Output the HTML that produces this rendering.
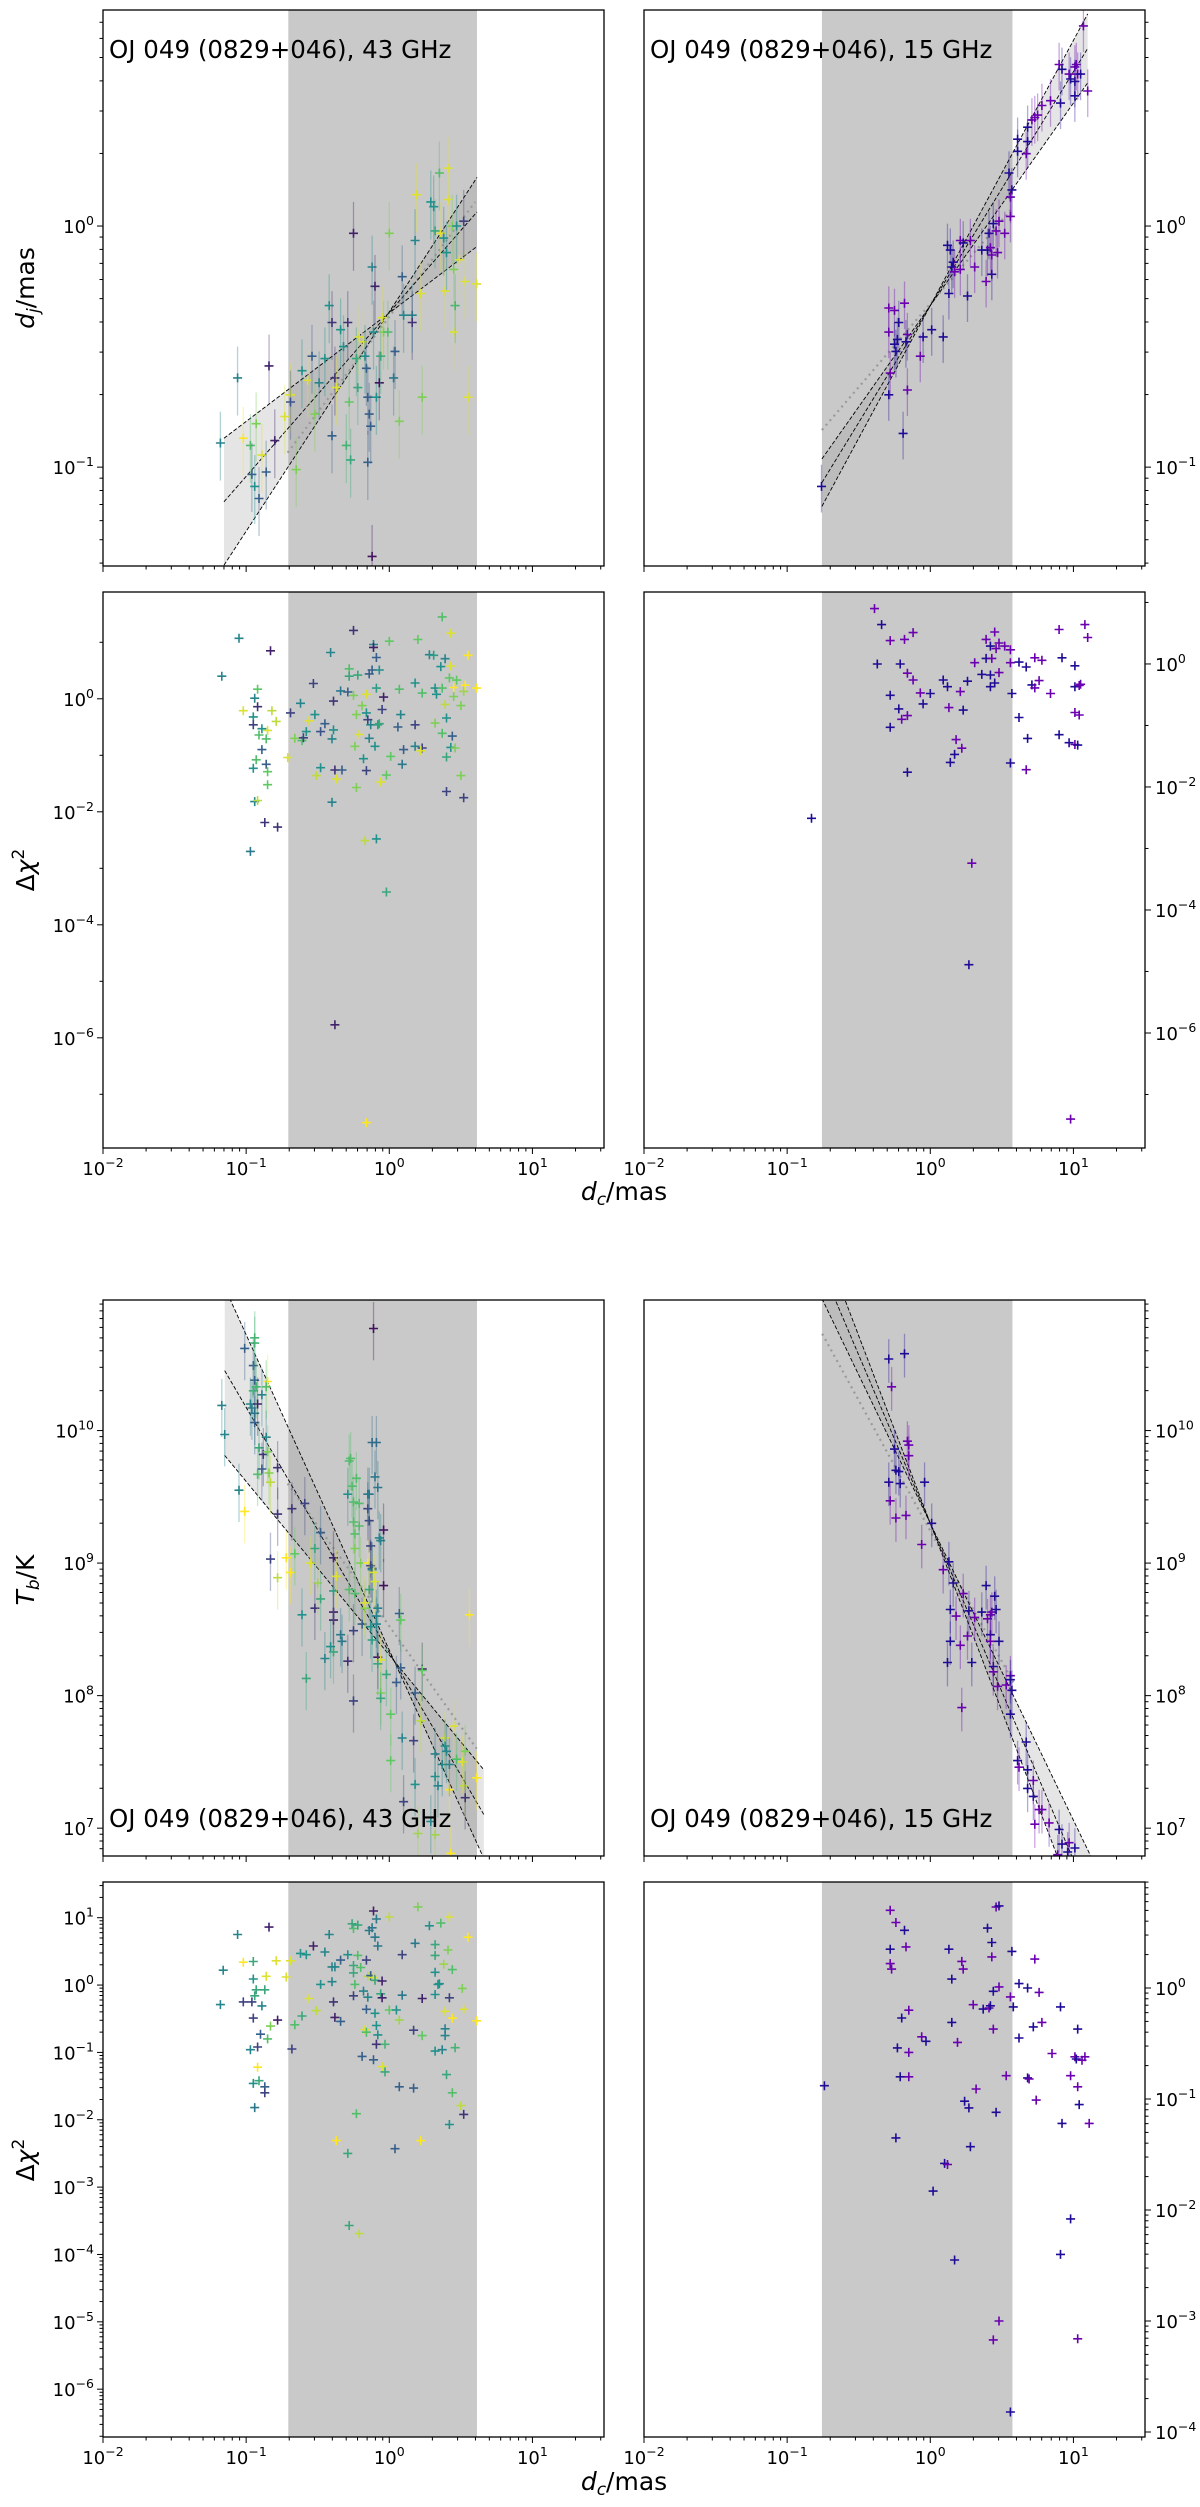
<!DOCTYPE html>
<html><head><meta charset="utf-8"><title>OJ 049 size/brightness vs distance</title>
<style>
html,body{margin:0;padding:0;background:#fff;}
svg{display:block;font-family:"DejaVu Sans","Liberation Sans",sans-serif;}
</style></head>
<body>
<svg id="fig" width="1200" height="2507" viewBox="0 0 1200 2507" xmlns="http://www.w3.org/2000/svg"></svg>
<script>
// ===== DATA (log10 values) =====
// Top-left: d_j vs d_c at 43 GHz
const tlLogDc=[-1.18,-1.06,-0.84,-1.02,-0.97,-0.96,-0.94,-0.91,-0.89,-0.86,-0.93,-0.80,-0.73,-0.69,-0.69,-0.65,-0.61,-0.57,-0.54,-0.52,-0.49,-0.45,-0.42,-0.40,-0.38,-0.37,-0.40,-0.34,-0.32,-0.30,-0.29,-0.28,-0.27,-0.25,-0.23,-0.22,-0.21,-0.18,-0.17,-0.16,-0.15,-0.14,-0.13,-0.15,-0.12,-0.11,-0.10,-0.09,-0.07,-0.06,-0.05,-0.04,-0.01,0.00,0.03,0.04,0.07,0.09,0.10,0.16,0.18,0.16,0.19,0.22,0.23,0.29,0.31,0.32,0.35,0.36,0.38,0.39,0.40,0.41,0.41,0.44,0.45,0.46,0.45,0.47,0.49,0.52,0.53,0.55,0.61,-0.12];
const tlLogDj=[-0.90,-0.63,-0.58,-0.88,-0.91,-1.03,-1.08,-1.13,-0.95,-1.02,-0.82,-0.89,-0.79,-0.70,-0.73,-1.01,-0.60,-0.64,-0.54,-0.78,-0.65,-0.55,-0.33,-0.40,-0.63,-0.67,-0.87,-0.43,-0.50,-0.91,-0.40,-0.73,-0.97,-0.03,-0.55,-0.67,-0.46,-0.48,-0.54,-0.59,-0.71,-0.78,-0.83,-0.98,-0.17,-0.44,-0.25,-0.71,-0.65,-0.54,-0.38,-0.44,-0.44,-0.03,-0.63,-0.52,-0.81,-0.21,-0.37,-0.37,-0.06,-0.40,0.13,-0.28,-0.71,0.10,0.08,-0.02,0.22,-0.03,-0.05,-0.27,-0.11,0.24,0.11,0.00,-0.18,-0.33,-0.44,0.00,-0.14,0.02,-0.23,-0.71,-0.24,-1.37];
const tlColor=[.45,.45,.1,1,.7,.3,.5,.3,.95,.3,.8,.1,.95,.95,.25,.8,.5,.95,.3,.8,.45,.5,.5,.15,.15,.95,.3,.5,.5,.65,.15,.75,.6,.1,.6,.6,.95,.95,.5,.3,.3,.3,.3,.3,.45,.5,.1,.5,.05,.6,.95,.8,.7,.8,.4,.3,.8,.3,.45,.45,.45,.15,.95,.95,.8,.5,.5,.6,.7,.95,.5,.95,.5,.95,.95,.8,.8,.65,.95,.5,.95,.2,.95,.95,.95,.05];
// Top-right: d_j vs d_c at 15 GHz (color 0 = blue epoch group, 1 = purple)
const trLogDc=[-0.76,-0.29,-0.25,-0.18,-0.22,-0.29,-0.23,-0.25,-0.24,-0.16,-0.17,-0.28,-0.29,-0.16,-0.19,-0.07,-0.05,0.01,0.09,0.12,0.13,0.14,0.15,0.16,0.17,0.21,0.21,0.23,0.26,0.28,0.31,0.36,0.39,0.40,0.41,0.42,0.43,0.43,0.44,0.46,0.47,0.48,0.52,0.56,0.56,0.55,0.57,0.61,0.61,0.67,0.68,0.68,0.71,0.73,0.75,0.78,0.84,0.90,0.91,0.92,0.97,0.98,1.01,1.02,1.01,1.01,1.03,1.05,1.10,1.07];
const trLogDj=[-1.08,-0.34,-0.35,-0.32,-0.40,-0.44,-0.47,-0.49,-0.52,-0.45,-0.48,-0.61,-0.70,-0.68,-0.86,-0.54,-0.46,-0.43,-0.46,-0.08,-0.28,-0.10,-0.17,-0.15,-0.19,-0.18,-0.06,-0.07,-0.29,-0.06,-0.17,-0.10,-0.23,-0.10,-0.03,-0.09,-0.20,-0.12,0.01,-0.02,-0.11,0.02,-0.03,0.04,0.12,0.22,0.15,0.31,0.36,0.30,0.41,0.35,0.44,0.45,0.46,0.50,0.52,0.67,0.51,0.65,0.63,0.61,0.66,0.67,0.60,0.54,0.63,0.63,0.56,0.83];
const trColor=[0,1,1,1,0,1,0,0,0,1,0,1,0,1,0,1,0,0,0,0,0,0,0,0,1,1,1,0,0,1,1,0,1,0,0,1,0,1,0,1,1,1,1,1,1,0,0,0,0,1,0,0,1,1,1,1,1,1,0,0,1,0,1,1,0,0,1,0,1,1];
// Row 2 left: delta chi^2 (d_j fit) at 43 GHz
const mlLogDc=[-1.17,-1.05,-0.83,-1.02,-0.94,-0.92,-0.92,-0.95,-0.95,-0.91,-0.89,-0.85,-0.86,-0.82,-0.79,-0.89,-0.93,-0.95,-0.86,-0.85,-0.85,-0.94,-0.92,-0.87,-0.78,-0.97,-0.71,-0.69,-0.62,-0.66,-0.61,-0.60,-0.58,-0.56,-0.52,-0.53,-0.48,-0.45,-0.51,-0.48,-0.41,-0.40,-0.39,-0.39,-0.38,-0.37,-0.33,-0.40,-0.34,-0.29,-0.28,-0.28,-0.25,-0.25,-0.24,-0.23,-0.23,-0.22,-0.21,-0.19,-0.18,-0.16,-0.16,-0.16,-0.15,-0.14,-0.14,-0.13,-0.12,-0.11,-0.11,-0.10,-0.09,-0.09,-0.08,-0.07,-0.07,-0.06,-0.05,-0.04,-0.02,0.00,0.01,-0.17,-0.09,-0.02,-0.38,-0.16,0.06,0.07,0.08,0.10,0.09,0.18,0.18,0.18,0.20,0.23,0.22,0.23,0.28,0.31,0.32,0.33,0.32,0.36,0.37,0.37,0.37,0.39,0.39,0.40,0.40,0.40,0.42,0.43,0.43,0.43,0.44,0.45,0.45,0.46,0.47,0.50,0.50,0.52,0.52,0.53,0.55,0.61];
const mlLogChi=[0.40,1.07,0.85,-0.21,0.01,0.17,-0.14,-0.32,-0.46,-0.64,-0.53,-0.56,-0.71,-0.21,-0.40,-0.90,-1.08,-1.23,-1.16,-1.29,-1.52,-1.82,-1.80,-2.19,-2.27,-2.70,-1.04,-0.25,-0.08,-0.70,-0.74,-0.69,-0.58,-0.39,-0.28,0.27,-0.58,-0.44,-1.36,-1.22,0.82,-0.71,-0.55,-0.04,-1.26,-1.42,-1.26,-1.83,0.14,0.12,0.53,0.40,1.21,0.06,-0.84,-1.57,-0.28,0.42,-0.63,-0.12,-1.06,-1.27,-0.25,0.08,-0.37,-0.70,0.44,-0.46,0.51,0.96,0.91,-0.84,0.73,0.19,-0.46,0.51,-0.44,-1.47,-0.19,0.03,-1.35,1.02,-1.02,-2.51,-2.48,-3.42,-5.77,-7.50,-0.50,0.17,-0.28,-0.90,-1.16,-0.46,0.28,-0.84,1.05,-0.87,-0.92,0.10,0.78,0.77,0.19,0.08,-0.43,0.57,1.45,0.19,-0.61,0.71,-0.10,-1.03,-1.64,-0.34,0.37,0.58,1.16,-0.86,-0.66,0.20,0.04,-0.87,0.33,-0.12,-1.36,-1.75,0.13,0.24,0.77,0.19];
const mlColor=[.45,.45,.1,.95,.45,.75,.15,.5,.2,.7,.5,.95,.7,.9,.9,.3,.7,.5,.3,.75,.75,.45,.9,.15,.15,.4,.95,.2,.45,.8,.7,.2,.5,.95,.5,.2,.25,.3,.9,.5,.45,.45,.5,.15,.15,.95,.3,.45,.4,.3,.7,.6,.15,.8,.8,.8,.8,.6,.95,.8,.5,.2,.5,.95,.2,.45,.3,.45,.3,.45,.1,.5,.3,.55,.55,.5,.6,.95,.2,.1,.75,.75,.75,.9,.5,.6,.1,1,.3,.7,.45,.3,.4,.2,.5,.45,.75,.2,.95,.7,.45,.55,.5,.5,.8,.5,.7,.7,.7,.45,.9,.6,.2,.5,.75,.95,.95,.5,.3,1,.8,.8,.75,.8,.8,.2,.85,1,1,1];
// Row 2 right: delta chi^2 (d_j fit) at 15 GHz
const mrLogDc=[-0.18,-0.21,-0.16,-0.22,-0.16,-0.16,-0.07,0.00,-0.05,0.09,0.12,0.21,0.26,0.13,0.23,0.18,0.22,0.17,0.14,0.29,0.31,0.36,0.39,0.39,0.42,0.42,0.42,0.43,0.45,0.46,0.48,0.45,0.48,0.52,0.56,0.56,0.57,0.56,0.62,0.62,0.67,0.68,0.67,0.73,0.78,0.71,0.73,0.76,0.84,0.90,0.92,0.90,0.97,1.01,1.04,1.01,1.03,1.01,1.01,1.04,1.05,1.08,1.10,-0.39,-0.34,-0.28,-0.37,-0.12,-0.28,-0.20,-0.28,-0.12,-0.83,0.27,0.98];
const mrLogChi=[0.40,0.00,-0.15,-0.73,-0.84,-1.76,-0.47,-0.48,-0.65,-0.26,-0.37,-0.45,-0.28,-0.71,-0.75,-1.23,-1.37,-1.47,-1.60,-3.24,0.02,-0.17,0.09,0.40,0.29,-0.18,-0.37,0.09,0.52,0.25,0.34,-0.31,-0.14,0.29,0.23,0.02,-0.48,-1.61,-0.87,0.03,-0.05,-1.21,-1.72,0.10,0.06,-0.34,-0.39,-0.27,-0.48,0.56,0.10,-1.15,-1.28,-0.79,-0.83,-1.31,-1.32,-0.03,-0.37,-0.35,-0.33,0.64,0.43,0.90,0.64,0.38,0.00,0.51,-0.51,-0.90,-1.03,-0.26,-2.51,-4.89,-7.40];
const mrColor=[1,0,1,0,1,0,1,0,0,0,0,1,0,1,0,1,1,0,0,1,1,0,0,1,0,0,0,1,1,1,1,0,1,1,1,1,0,0,0,0,0,0,1,1,1,0,1,1,1,1,0,0,0,1,1,1,0,0,0,1,1,1,1,1,0,1,0,1,0,1,0,1,0,0,1];
// Row 3 left: T_b vs d_c at 43 GHz
const blLogDc=[-1.17,-1.15,-1.05,-1.01,-1.01,-0.94,-0.94,-0.95,-0.94,-0.97,-0.96,-0.95,-0.94,-0.94,-0.92,-0.93,-0.91,-0.92,-0.89,-0.89,-0.88,-0.86,-0.85,-0.86,-0.85,-0.84,-0.83,-0.83,-0.78,-0.78,-0.78,-0.72,-0.69,-0.68,-0.66,-0.61,-0.59,-0.58,-0.55,-0.52,-0.52,-0.50,-0.48,-0.48,-0.45,-0.41,-0.39,-0.39,-0.39,-0.39,-0.39,-0.37,-0.34,-0.33,-0.29,-0.28,-0.27,-0.26,-0.25,-0.25,-0.24,-0.24,-0.23,-0.21,-0.21,-0.29,-0.25,-0.25,-0.24,-0.28,-0.20,-0.19,-0.17,-0.17,-0.15,-0.15,-0.14,-0.15,-0.14,-0.13,-0.13,-0.12,-0.12,-0.11,-0.10,-0.12,-0.09,-0.10,-0.08,-0.11,-0.14,-0.13,-0.12,-0.09,-0.09,-0.08,-0.07,-0.06,-0.04,-0.04,-0.08,-0.06,-0.08,-0.06,-0.02,-0.06,0.01,0.01,0.07,0.08,0.08,0.05,0.09,0.18,0.18,0.17,0.10,0.22,0.23,0.23,0.20,0.29,0.32,0.32,0.34,0.32,0.37,0.39,0.40,0.39,0.42,0.42,0.43,0.45,0.47,0.51,0.52,0.53,0.53,0.56,0.61];
const blLogTb=[10.19,9.97,9.55,9.39,10.62,10.70,10.66,10.49,10.38,10.20,10.17,10.30,10.13,10.06,10.20,10.33,9.87,9.67,10.27,9.71,9.82,9.95,10.37,10.33,9.84,9.68,9.61,9.03,9.72,9.37,8.89,9.04,8.93,9.41,9.07,8.61,9.45,8.13,9.00,9.11,8.66,8.85,9.23,8.73,8.28,8.37,8.57,8.63,9.04,8.79,8.33,8.90,8.46,8.41,9.52,9.77,9.79,9.58,9.46,9.31,9.22,9.11,9.64,9.45,9.28,8.26,8.49,7.96,8.77,8.80,9.00,8.54,8.66,8.70,9.00,9.41,9.32,9.52,9.52,9.13,8.98,8.95,8.96,8.93,8.86,9.91,9.91,9.65,9.57,10.77,8.80,8.52,8.42,8.60,8.54,8.66,9.19,9.17,9.25,8.83,8.29,8.27,8.24,8.02,8.16,7.98,7.86,7.51,8.62,8.57,8.21,8.10,7.68,8.02,7.33,7.66,7.20,7.81,8.20,8.19,6.96,7.05,7.56,6.95,7.32,7.39,7.48,7.68,7.58,7.62,7.29,7.48,6.81,7.77,7.52,7.50,7.32,7.23,7.58,8.61,7.38];
const blColor=[.45,.45,.45,1,.3,.65,.65,.3,.3,.45,.4,.65,.4,.3,.1,.65,.6,.7,.45,.3,.15,.45,1,.7,.8,.8,.9,.2,.15,.15,.9,1,1,.15,.75,.5,.2,.6,.95,.6,.15,.85,.3,.6,.45,.5,.1,.1,.1,.55,.6,.95,.4,.4,.5,.7,.7,.7,.7,.7,.7,.8,.7,.7,.7,.15,.2,.2,.7,.7,.8,.3,.8,.95,1,.2,.2,.4,.4,.2,.2,.45,.3,.95,.95,.35,.35,.4,.4,.05,.6,.5,.55,.45,.45,.45,.45,.45,.05,.05,.05,.95,.6,.8,.6,.6,.75,.75,.3,.75,.3,.3,.45,.3,.5,.2,.2,.9,.1,.75,.85,.45,.45,.85,.45,.5,.45,.95,.45,.5,1,.45,1,.95,.7,.95,.9,.15,.8,1,1];
// Row 3 right: T_b vs d_c at 15 GHz
const brLogDc=[-0.29,-0.18,-0.27,-0.25,-0.16,-0.15,-0.15,-0.24,-0.22,-0.29,-0.21,-0.04,-0.28,-0.24,-0.17,-0.06,0.01,0.09,0.13,0.16,0.14,0.18,0.23,0.27,0.31,0.36,0.39,0.40,0.42,0.43,0.45,0.46,0.42,0.42,0.48,0.26,0.21,0.14,0.12,0.29,0.44,0.44,0.47,0.53,0.56,0.56,0.57,0.56,0.22,0.61,0.62,0.67,0.68,0.68,0.72,0.72,0.76,0.78,0.73,0.83,0.90,0.92,0.97,1.01,0.89,0.96];
const brLogTb=[10.54,10.58,10.33,9.86,9.92,9.89,9.81,9.70,9.69,9.61,9.60,9.61,9.47,9.34,9.36,9.14,9.30,8.95,9.01,8.85,8.65,8.60,8.77,8.64,8.59,8.63,8.83,8.58,8.61,8.63,8.75,8.65,8.46,8.41,8.41,8.45,8.38,8.41,8.25,8.25,8.22,8.18,8.07,8.08,8.15,8.12,8.04,7.86,7.91,7.51,7.46,7.65,7.44,7.30,7.24,7.36,7.14,7.14,7.03,7.04,6.99,6.88,6.89,6.85,6.80,6.82];
const brColor=[0,0,1,0,1,1,1,0,0,0,0,0,1,1,1,1,0,1,0,0,0,1,1,0,1,0,0,1,1,1,0,0,0,1,0,1,1,0,0,0,0,1,1,1,1,0,0,0,1,0,1,0,0,0,0,1,1,1,1,1,0,0,1,0,1,0];
// Row 4 left: delta chi^2 (T_b fit) at 43 GHz
const llLogDc=[-1.06,-0.84,-1.16,-1.18,-1.02,-0.95,-0.95,-0.86,-0.79,-0.69,-0.72,-0.93,-0.94,-0.87,-1.02,-0.96,-0.89,-0.95,-0.78,-0.83,-0.90,-0.85,-0.97,-0.92,-0.68,-0.92,-0.91,-0.95,-0.87,-0.87,-0.94,-0.66,-0.61,-0.56,-0.51,-0.62,-0.58,-0.53,-0.48,-0.45,-0.42,-0.40,-0.40,-0.38,-0.39,-0.38,-0.34,-0.34,-0.29,-0.25,-0.26,-0.22,-0.22,-0.25,-0.25,-0.24,-0.25,-0.20,-0.16,-0.15,-0.13,-0.11,-0.10,-0.18,-0.16,-0.15,-0.10,-0.09,-0.08,-0.09,-0.06,-0.05,-0.05,-0.14,-0.12,-0.11,-0.09,-0.10,-0.08,-0.19,-0.11,-0.17,-0.16,-0.05,-0.03,-0.03,-0.23,-0.37,-0.29,-0.28,-0.21,0.00,0.00,0.05,0.07,0.07,0.04,0.09,0.09,0.18,0.17,0.17,0.20,0.23,0.23,0.22,0.28,0.32,0.32,0.32,0.34,0.35,0.32,0.32,0.36,0.38,0.39,0.37,0.39,0.39,0.40,0.42,0.41,0.42,0.42,0.44,0.44,0.44,0.46,0.50,0.51,0.52,0.52,0.55,0.61];
const llLogChi=[0.75,0.86,0.22,-0.29,0.34,0.35,0.09,0.13,0.36,0.36,0.12,-0.07,-0.16,-0.07,-0.25,-0.25,-0.31,-0.49,-0.52,-0.61,-0.73,-0.80,-0.96,-0.92,-0.95,-1.22,-1.42,-1.46,-1.51,-1.60,-1.82,-0.59,-0.46,-0.20,-0.38,0.47,0.45,0.58,0.01,0.49,0.75,0.27,0.05,0.27,-0.25,-0.48,-0.54,0.37,0.45,0.84,0.91,0.89,0.44,0.29,0.18,0.01,-0.16,0.26,0.37,0.13,0.14,0.11,0.07,-0.09,-0.36,-0.18,-0.42,-0.60,-0.74,-0.88,-0.13,-0.19,0.06,0.81,0.85,1.10,0.98,0.71,0.58,-1.06,-1.11,-0.66,-0.70,-1.21,-0.88,-1.29,-1.91,-2.31,-2.50,-3.57,-3.69,-0.37,1.01,-0.37,-0.52,-1.51,-2.43,0.45,-0.15,0.62,-1.53,-0.67,1.16,-0.75,-0.20,-2.31,0.88,0.60,0.44,0.19,0.01,0.02,-0.14,-0.98,0.92,0.31,-0.39,-0.96,-0.75,-0.65,-1.33,-2.07,0.52,1.01,-0.19,-0.49,0.23,-1.60,-0.93,-1.79,-0.05,-0.36,-1.92,0.71,-0.53];
const llColor=[.45,.1,.45,.45,1,.6,.5,.95,.95,.95,.95,.6,.6,.6,.2,.2,.45,.2,.1,.8,.3,.7,.45,.2,.2,1,.6,.5,.3,.2,.4,.7,.6,.95,.9,.5,.5,.1,.5,.45,.45,.45,.45,.45,.15,.1,.3,.3,.5,.7,.6,.6,.7,.6,.6,.7,.2,.7,.2,.9,.3,.95,.6,.45,.3,.45,.5,.5,.5,.15,.6,.1,.1,.4,.4,.1,.4,.4,.4,.3,.3,.95,.7,.95,.65,.6,.7,1,.6,.6,.9,.75,.9,.5,.85,.3,.3,.2,.4,.4,.3,.2,.8,.75,.1,1,.5,.6,.6,.5,.5,.5,.5,.5,.7,.85,.95,.45,.45,.45,.6,.5,.8,.95,.2,1,.7,.7,.65,.9,.8,.95,.15,1,1];
// Row 4 right: delta chi^2 (T_b fit) at 15 GHz
const lrLogDc=[-0.74,-0.28,-0.24,-0.18,-0.28,-0.17,-0.28,-0.27,-0.20,-0.15,-0.23,-0.15,-0.21,-0.15,-0.24,-0.06,-0.03,0.13,0.15,0.15,0.22,0.23,0.19,0.30,0.37,0.41,0.42,0.40,0.43,0.43,0.44,0.44,0.46,0.48,0.48,0.57,0.56,0.58,0.53,0.32,0.24,0.27,0.46,0.10,0.12,0.02,0.28,0.17,0.48,0.44,0.56,0.62,0.68,0.62,0.72,0.73,0.76,0.78,0.68,0.69,0.74,0.85,0.91,0.92,0.91,0.98,0.98,1.01,1.02,1.03,1.03,1.04,1.06,1.08,1.11,1.03];
const lrLogChi=[-0.88,0.70,0.59,0.52,0.35,0.37,0.22,0.17,-0.27,-0.20,-0.54,-0.58,-0.80,-0.80,-1.35,-0.44,-0.48,0.35,0.08,-0.31,0.24,0.17,-0.49,-0.15,-0.19,-0.18,-0.16,0.54,0.41,0.28,-0.03,-0.37,0.73,0.74,0.01,0.33,-0.08,-0.17,-0.79,-0.91,-1.02,-1.08,-1.12,-1.58,-1.59,-1.83,-1.43,-2.45,-3.00,-3.17,-3.82,0.04,0.00,-0.45,-0.35,0.26,-0.04,-0.31,-0.81,-0.82,-1.01,-0.59,-0.17,-1.22,-2.40,-0.79,-2.08,-0.62,-0.64,-0.37,-0.89,-1.05,-0.65,-0.62,-1.22,-3.16];
const lrColor=[0,1,1,0,0,1,1,1,0,1,0,1,0,1,0,1,0,0,0,0,1,1,1,1,0,1,0,0,0,1,0,1,1,0,1,0,1,0,1,1,0,0,0,0,1,0,0,0,1,1,0,0,0,0,0,1,1,1,0,1,1,1,0,0,0,1,0,1,0,0,1,0,1,1,1,1];
// Fits: pivot (log d_c, log y) and slopes of the three fit lines; dotted line endpoints
const tlFitPivot=[-0.01,-0.365]; const tlFitSlopes=[0.91,0.68,0.45]; const tlFitRange=[-1.155,0.613]; const tlDotted=[-0.71,-0.94,0.60,0.10];
const trFitPivot=[0.0,-0.33];   const trFitSlopes=[1.10,0.97,0.84]; const trFitRange=[-0.757,1.10]; const trDotted=[-0.757,-0.846,0.574,0.075];
const blFitPivot=[0.035,8.26];  const blFitSlopes=[-2.38,-1.85,-1.31]; const blFitRange=[-1.15,0.66]; const blDotted=[-0.71,9.6,0.61,7.6];
const brFitPivot=[0.0,9.3];     const brFitSlopes=[-2.24,-2.54,-2.83]; const brFitRange=[-0.757,1.25]; const brDotted=[-0.755,10.73,0.58,8.1];
// Shaded fit ranges (d_c in mas)
const bandLeft=[0.197,4.1]; const bandRight=[0.175,3.75];
const xTickDecades=[-2,-1,0,1];

// ===== RENDERING =====
const NS="http://www.w3.org/2000/svg";
const fig=document.getElementById('fig');
function mk(tag,attrs,parent){const e=document.createElementNS(NS,tag);for(const k in attrs)e.setAttribute(k,attrs[k]);(parent||fig).appendChild(e);return e;}
const VIR=[[68,1,84],[59,82,139],[33,145,140],[94,201,98],[253,231,37]];
function viridis(t){t=Math.max(0,Math.min(1,t));const s=t*4,i=Math.min(3,Math.floor(s)),f=s-i;const a=VIR[i],b=VIR[i+1];return 'rgb('+a.map((v,k)=>Math.round(v+(b[k]-v)*f)).join(',')+')';}
const PURP=['#1f0c96','#6a00b0'];
let clipId=0;

function panel(cfg){
  const {x,y,w,h,ylo,yhi}=cfg;
  const X=v=>x+(v-(-2))/(1.5-(-2))*w;
  const Y=v=>y+h-(v-ylo)/(yhi-ylo)*h;
  const g=mk('g',{});
  
  
  const cid='c'+(clipId++);
  const cp=mk('clipPath',{id:cid},g);mk('rect',{x:x,y:y,width:w,height:h},cp);
  const inner=mk('g',{'clip-path':'url(#'+cid+')'},g);
  const b0=X(Math.log10(cfg.band[0])),b1=X(Math.log10(cfg.band[1]));
  const band=mk('rect',{x:b0,y:y,width:b1-b0,height:h,fill:'#c9c9c9'},inner);
  
  
  if(cfg.fit){
    const f=cfg.fit,N=80,up=[],lo=[];
    for(let i=0;i<=N;i++){const lx=f.range[0]+(f.range[1]-f.range[0])*i/N;const vals=f.slopes.map(s=>f.pivot[1]+s*(lx-f.pivot[0]));up.push([X(lx),Y(Math.max(...vals))]);lo.push([X(lx),Y(Math.min(...vals))]);}
    const pts=up.concat(lo.reverse()).map(p=>p[0].toFixed(1)+','+p[1].toFixed(1)).join(' ');
    const poly=mk('polygon',{points:pts,fill:'rgba(150,150,150,0.25)',stroke:'none'},inner);
    
    
    const d=f.dotted;
    const dl=mk('line',{x1:X(d[0]),y1:Y(d[1]),x2:X(d[2]),y2:Y(d[3]),stroke:'#9a9a9a','stroke-width':2.2,'stroke-dasharray':'2,4'},inner);
    
    
    f.slopes.forEach(s=>{
      const l=mk('line',{x1:X(f.range[0]),y1:Y(f.pivot[1]+s*(f.range[0]-f.pivot[0])),x2:X(f.range[1]),y2:Y(f.pivot[1]+s*(f.range[1]-f.pivot[0])),stroke:'#000','stroke-width':0.9,'stroke-dasharray':'4,2'},inner);
      
      
    });
  }
  for(let i=0;i<cfg.xs.length;i++){
    const px=X(cfg.xs[i]),py=Y(cfg.ys[i]);
    const col=cfg.purple?PURP[cfg.cs[i]]:viridis(cfg.cs[i]);
    if(cfg.err){const eb=mk('line',{x1:px,y1:Y(cfg.ys[i]+cfg.err),x2:px,y2:Y(cfg.ys[i]-cfg.err*1.2),stroke:col,'stroke-width':1.3,opacity:0.35},inner);
      
      }
    const m=mk('path',{d:`M${(px-4.5).toFixed(1)},${py.toFixed(1)}h9M${px.toFixed(1)},${(py-4.5).toFixed(1)}v9`,stroke:col,'stroke-width':1.6,fill:'none'},inner);
    
    
  }
  const fr=mk('rect',{x:x,y:y,width:w,height:h,fill:'none',stroke:'#000','stroke-width':1.3},g);
  
  
  const tk=mk('g',{stroke:'#000','stroke-width':1},g);
  xTickDecades.forEach(dc=>{
    for(let m=1;m<10;m++){const lv=dc+Math.log10(m);if(lv>1.5)break;const tx=X(lv);const len=m===1?6:3.5;
      mk('line',{x1:tx,y1:y+h,x2:tx,y2:y+h+len},tk);}
    if(cfg.xlabels){const t=tickLabel(X(dc),y+h+27,dc,'middle',g);}
  });
  const right=cfg.side==='right', ax=right?x+w:x, dir=right?1:-1;
  for(let dc=Math.floor(ylo);dc<=Math.ceil(yhi);dc++){
    if(dc>=ylo&&dc<=yhi){const labeled=((dc%cfg.step)+cfg.step)%cfg.step===0;const ty=Y(dc);
      mk('line',{x1:ax,y1:ty,x2:ax+dir*(labeled?6:3.5),y2:ty},tk);
      if(labeled){const t=tickLabel(right?ax+10:ax-9,ty+7,dc,right?'start':'end',g);}}
    if(cfg.minor){for(let m=2;m<10;m++){const lv=dc+Math.log10(m);if(lv<ylo||lv>yhi)continue;const ty=Y(lv);mk('line',{x1:ax,y1:ty,x2:ax+dir*3.5,y2:ty},tk);}}
  }
  if(cfg.title){const t=mk('text',{x:x+6,y:cfg.titleY,'font-size':24.5,fill:'#000'},g);t.textContent=cfg.title;
    
    }
}
function tickLabel(tx,ty,dc,anchor,g){
  const t=mk('text',{x:tx,y:ty,'font-size':18,'text-anchor':anchor,fill:'#000'},g);
  const a=mk('tspan',{},t);a.textContent='10';
  const b=mk('tspan',{dy:-8,'font-size':12.5},t);b.textContent=(dc<0?'\u2212':'')+Math.abs(dc);
  return t;
}
const L=103,R=644,W=501;
panel({name:'dj-panel-43ghz',x:L,y:10,w:W,h:556,ylo:-1.41,yhi:0.896,xs:tlLogDc,ys:tlLogDj,cs:tlColor,err:0.13,band:bandLeft,step:1,minor:true,side:'left',title:'OJ 049 (0829+046), 43 GHz',titleY:58,
  fit:{pivot:tlFitPivot,slopes:tlFitSlopes,range:tlFitRange,dotted:tlDotted}});
panel({name:'dj-panel-15ghz',x:R,y:10,w:W,h:556,ylo:-1.41,yhi:0.896,xs:trLogDc,ys:trLogDj,cs:trColor,purple:true,err:0.09,band:bandRight,step:1,minor:true,side:'right',title:'OJ 049 (0829+046), 15 GHz',titleY:58,
  fit:{pivot:trFitPivot,slopes:trFitSlopes,range:trFitRange,dotted:trDotted}});
panel({name:'chi2-dj-panel-43ghz',x:L,y:592,w:W,h:556,ylo:-7.95,yhi:1.89,xs:mlLogDc,ys:mlLogChi,cs:mlColor,band:bandLeft,step:2,minor:false,side:'left',xlabels:true});
panel({name:'chi2-dj-panel-15ghz',x:R,y:592,w:W,h:556,ylo:-7.87,yhi:1.17,xs:mrLogDc,ys:mrLogChi,cs:mrColor,purple:true,band:bandRight,step:2,minor:false,side:'right',xlabels:true});
panel({name:'tb-panel-43ghz',x:L,y:1300,w:W,h:556,ylo:6.79,yhi:10.985,xs:blLogDc,ys:blLogTb,cs:blColor,err:0.2,band:bandLeft,step:1,minor:true,side:'left',title:'OJ 049 (0829+046), 43 GHz',titleY:1827,
  fit:{pivot:blFitPivot,slopes:blFitSlopes,range:blFitRange,dotted:blDotted}});
panel({name:'tb-panel-15ghz',x:R,y:1300,w:W,h:556,ylo:6.79,yhi:10.985,xs:brLogDc,ys:brLogTb,cs:brColor,purple:true,err:0.15,band:bandRight,step:1,minor:true,side:'right',title:'OJ 049 (0829+046), 15 GHz',titleY:1827,
  fit:{pivot:brFitPivot,slopes:brFitSlopes,range:brFitRange,dotted:brDotted}});
panel({name:'chi2-tb-panel-43ghz',x:L,y:1882,w:W,h:555,ylo:-6.71,yhi:1.53,xs:llLogDc,ys:llLogChi,cs:llColor,band:bandLeft,step:1,minor:true,side:'left',xlabels:true});
panel({name:'chi2-tb-panel-15ghz',x:R,y:1882,w:W,h:555,ylo:-4.045,yhi:0.955,xs:lrLogDc,ys:lrLogChi,cs:lrColor,purple:true,band:bandRight,step:1,minor:true,side:'right',xlabels:true});

function axLabel(txt,xx,yy,rot,name){const t=mk('text',{x:xx,y:yy,'font-size':25,'text-anchor':'middle',fill:'#000',transform:rot?`rotate(-90 ${xx} ${yy})`:''});t.innerHTML=txt;
  
  }
axLabel('<tspan font-style="italic">d</tspan><tspan font-size="17" dy="5" font-style="italic">j</tspan><tspan dy="-5">/mas</tspan>',34,288,true,'y-axis-title-dj');
axLabel('Δ<tspan font-style="italic">χ</tspan><tspan font-size="17" dy="-10">2</tspan>',34,870,true,'y-axis-title-chi2-top');
axLabel('<tspan font-style="italic">T</tspan><tspan font-size="17" dy="5" font-style="italic">b</tspan><tspan dy="-5">/K</tspan>',34,1580,true,'y-axis-title-tb');
axLabel('Δ<tspan font-style="italic">χ</tspan><tspan font-size="17" dy="-10">2</tspan>',34,2160,true,'y-axis-title-chi2-bottom');
axLabel('<tspan font-style="italic">d</tspan><tspan font-size="17" dy="5" font-style="italic">c</tspan><tspan dy="-5">/mas</tspan>',624,1200,false,'x-axis-title-top');
axLabel('<tspan font-style="italic">d</tspan><tspan font-size="17" dy="5" font-style="italic">c</tspan><tspan dy="-5">/mas</tspan>',624,2490,false,'x-axis-title-bottom');
</script>
</body></html>
